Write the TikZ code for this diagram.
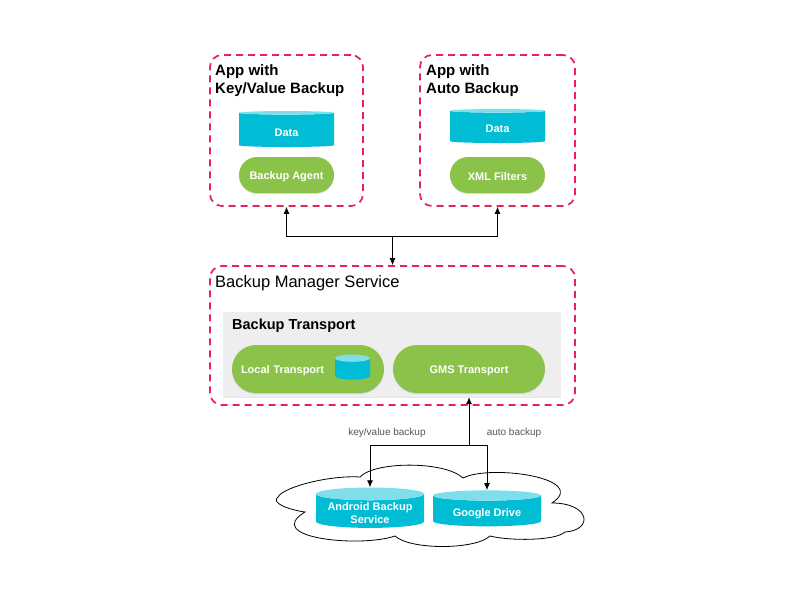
\documentclass[tikz,border=0pt]{standalone}
\usepackage{fontspec}
\setmainfont{Liberation Sans}
\usetikzlibrary{arrows.meta,shapes.geometric,shadows}
\definecolor{pinkline}{HTML}{E91E63}
\definecolor{cyanbody}{HTML}{00BCD4}
\definecolor{cyantop}{HTML}{80DEEA}
\definecolor{greenpill}{HTML}{8BC34A}
\definecolor{panelgray}{HTML}{EEEEEE}
\definecolor{labelgray}{HTML}{555555}
\tikzset{
    dashed-box/.style = {draw=pinkline, line width=1.7pt, dash pattern=on 7pt off 5pt, rounded corners=12pt, rectangle},
    box-title/.style = {anchor=north west, align=left, inner sep=0pt, font=\fontsize{15}{18}\selectfont\bfseries},
    data-cyl/.style = {cylinder, shape border rotate=90, aspect=0.15, cylinder uses custom fill, cylinder body fill=cyanbody, cylinder end fill=cyantop, inner sep=0pt, text=white, align=center, font=\fontsize{11}{13}\selectfont\bfseries},
    green-pill/.style = {fill=greenpill, rectangle, rounded corners=18pt, text=white, font=\fontsize{11}{13}\selectfont\bfseries, drop shadow={shadow xshift=0pt, shadow yshift=-1pt, opacity=0.25}},
    link/.style = {draw=black, line width=0.8pt, -{Latex[length=7pt,width=6pt]}},
    link-label/.style = {text=labelgray, font=\fontsize{10}{12}\selectfont},
}
\newcommand{\lowtext}[2]{\raisebox{-#1}[\height][\depth]{#2}}

\begin{document}
\begin{tikzpicture}[x=1pt, y=-1pt]
\useasboundingbox (0,0) rectangle (800,600);
% apps
\node [dashed-box, minimum width=153, minimum height=151] (kvapp) at (286.5,130.5) {};
\node [box-title] (kvtitle) at (215,64) {App with\\Key/Value Backup};
\node [data-cyl, minimum width=95, minimum height=36] (kvdata) at (286.5,130) {\lowtext{2.5pt}{Data}};
\node [green-pill, minimum width=95, minimum height=36] (agent) at (286.5,175) {\lowtext{1.5pt}{Backup Agent}};

\node [dashed-box, minimum width=155, minimum height=151] (autoapp) at (497.5,130.5) {};
\node [box-title] (autotitle) at (426,64) {App with\\Auto Backup};
\node [data-cyl, minimum width=95, minimum height=34] (autodata) at (497.5,127) {\lowtext{2pt}{Data}};
\node [green-pill, minimum width=95, minimum height=36] (filters) at (497.5,175) {\lowtext{1.5pt}{XML Filters}};

% backup manager
\node [dashed-box, minimum width=365, minimum height=139] (bms) at (392.5,335.5) {};
\node [anchor=north west, inner sep=0pt, font=\fontsize{16.5}{20}\selectfont] (bmstitle) at (215,275) {Backup Manager Service};
\node [fill=panelgray, minimum width=338, minimum height=85, inner sep=0pt, drop shadow={shadow xshift=0pt, shadow yshift=-1pt, opacity=0.2}] (panel) at (392,354.5) {};
\node [anchor=north west, inner sep=0pt, font=\fontsize{14.5}{17}\selectfont\bfseries] (paneltitle) at (232,319) {Backup Transport};
\node [green-pill, minimum width=152, minimum height=48, rounded corners=24pt, text width=134, align=left] (local) at (308,369) {\lowtext{1.5pt}{Local Transport}};
\node [data-cyl, aspect=0.3, minimum width=35, minimum height=25] (localdata) at (352.5,369) {\hphantom{Data}};
\node [green-pill, minimum width=152, minimum height=48, rounded corners=24pt] (gms) at (469,369) {\lowtext{1.5pt}{GMS Transport}};

% cloud
\draw [line width=0.8pt] (278,497) .. controls (283,487) and (330,475) .. (360,477)
    .. controls (375,461) and (445,461) .. (463,478)
    .. controls (490,464) and (590,478) .. (552,503)
    .. controls (590,503) and (594,530) .. (565,532)
    .. controls (555,541) and (510,541) .. (490,536)
    .. controls (475,550) and (410,550) .. (395,536)
    .. controls (360,548) and (262,538) .. (305,512)
    .. controls (290,510) and (270,503) .. cycle;
\node [data-cyl, minimum width=108, minimum height=36] (abs) at (370,511) {\lowtext{2pt}{Android Backup}\\\lowtext{2pt}{Service}};
\node [data-cyl, minimum width=108, minimum height=36] (gdrive) at (487,511) {\lowtext{2.5pt}{Google Drive}};

% connectors
\coordinate (fork) at (bms.north |- 0,236);
\draw [link] (fork) -| (kvapp.south);
\draw [link] (fork) -| (autoapp.south);
\draw [link] (fork) -- (bms.north);
\coordinate (split) at (gms.south |- 0,445);
\draw [link] (split) -- (gms.south |- panel.south);
\draw [link] (split) -| (abs.north);
\draw [link] (split) -| (gdrive.north);
\node [link-label] (kvlabel) at (387,433) {key/value backup};
\node [link-label] (autolabel) at (514,433) {auto backup};
\end{tikzpicture}
\end{document}
